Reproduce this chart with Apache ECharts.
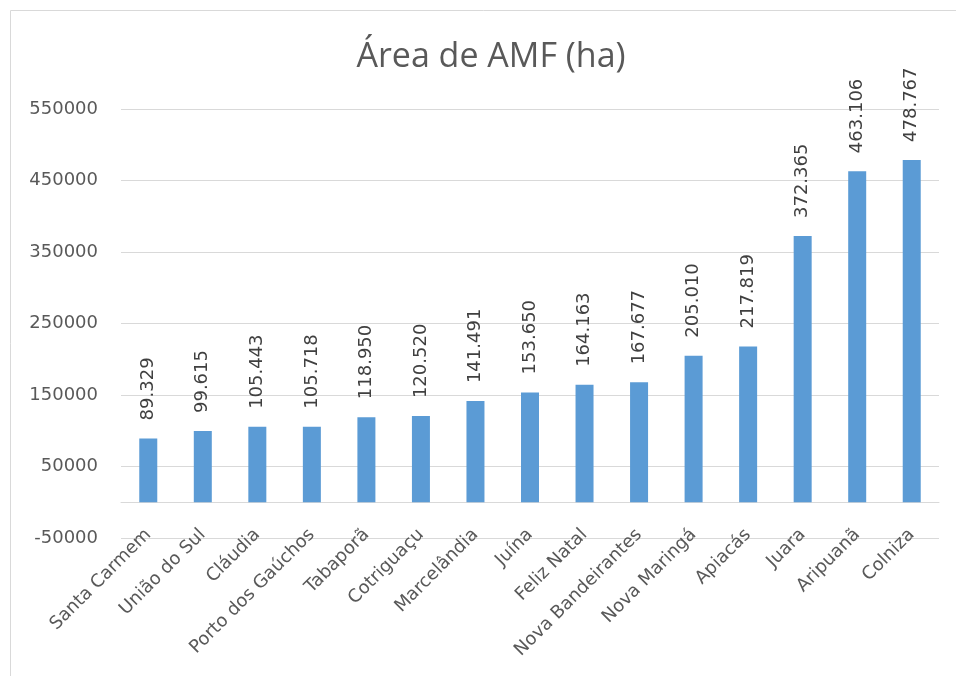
<!DOCTYPE html>
<html>
<head>
<meta charset="utf-8">
<script src="https://cdn.jsdelivr.net/npm/echarts@6/dist/echarts.min.js"></script>
<style>
  html, body { margin: 0; padding: 0; background: #fff; }
  #chart { width: 956px; height: 676px; }
</style>
</head>
<body>
<div id="chart"></div>
<script>
// municípios e área de AMF (ha)
const categories = ['Santa Carmem', 'União do Sul', 'Cláudia', 'Porto dos Gaúchos', 'Tabaporã', 'Cotriguaçu',
  'Marcelândia', 'Juína', 'Feliz Natal', 'Nova Bandeirantes', 'Nova Maringá', 'Apiacás', 'Juara', 'Aripuanã', 'Colniza'];
const areaValues = [89329, 99615, 105443, 105718, 118950, 120520, 141491, 153650, 164163, 167677, 205010, 217819, 372365, 463106, 478767];
const yMin = -50000;
const yMax = 550000;
const yStep = 100000;

const chart = echarts.init(document.getElementById('chart'));

// 89329 -> 89.329
function fmtPt(v) {
  return String(v).replace(/\B(?=(\d{3})+(?!\d))/g, '.');
}

const option = {
  animation: false,
  textStyle: { fontFamily: 'DejaVu Sans' },
  title: {
    text: 'Área de AMF (ha)',
    left: 486,
    textAlign: 'center',
    top: 35,
    textStyle: { color: '#595959', fontSize: 34, fontWeight: 'normal', fontFamily: 'Open Sans' }
  },
  graphic: [{
    type: 'rect',
    shape: { x: 10.5, y: 10.5, width: 990, height: 700 },
    style: { fill: 'none', stroke: '#d9d9d9', lineWidth: 1 },
    silent: true
  }],
  grid: { left: 121, right: 17, top: 109, bottom: 138, containLabel: false },
  xAxis: {
    type: 'category',
    data: categories,
    axisLine: { onZero: true, lineStyle: { color: '#d9d9d9', width: 1 } },
    axisTick: { show: false },
    axisLabel: {
      interval: 0,
      rotate: 45,
      margin: -6,
      color: '#595959',
      fontSize: 18
    }
  },
  yAxis: {
    type: 'value',
    min: yMin,
    max: yMax,
    interval: yStep,
    axisLine: { show: false },
    axisTick: { show: false },
    axisLabel: { color: '#595959', fontSize: 18, margin: 23, formatter: v => String(v) },
    splitLine: { lineStyle: { color: '#d9d9d9', width: 1 } }
  },
  series: [{
    type: 'bar',
    data: areaValues,
    barWidth: 18,
    itemStyle: { color: '#5B9BD5' },
    label: {
      show: true,
      position: 'top',
      rotate: 90,
      align: 'left',
      verticalAlign: 'middle',
      distance: 18,
      color: '#404040',
      fontSize: 18,
      formatter: p => fmtPt(p.value)
    }
  }]
};

chart.setOption(option);
</script>
</body>
</html>
